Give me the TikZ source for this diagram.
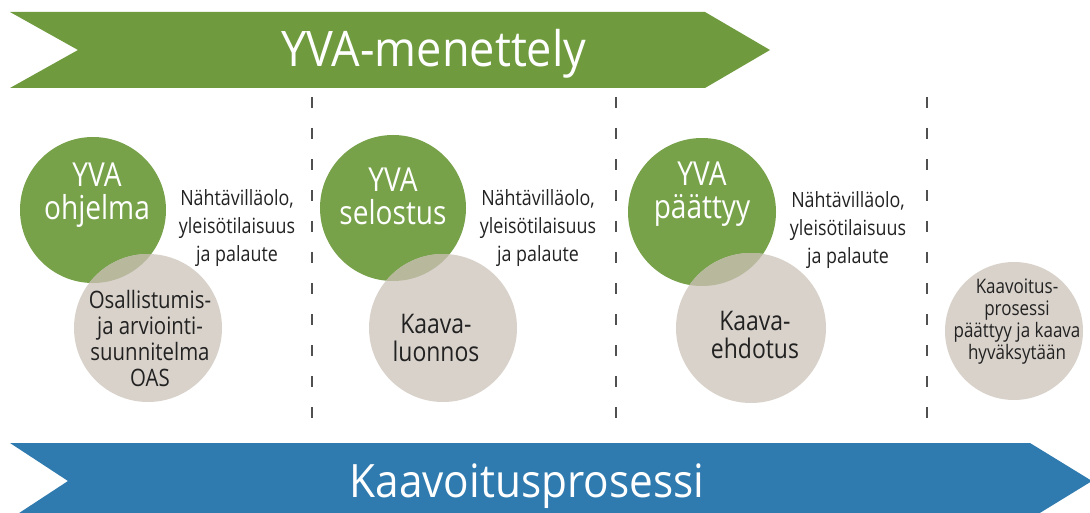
\documentclass[tikz,border=0pt]{standalone}
\usepackage{fontspec}
\setmainfont{Open Sans}
\newfontfamily\condfont[FakeStretch=0.85]{Open Sans}
\newfontfamily\titlefont[FakeStretch=0.92]{Open Sans}
\definecolor{arrowgreen}{HTML}{6F9B3E}
\definecolor{circgreen}{HTML}{77A24A}
\definecolor{circgray}{HTML}{D9D2CB}
\definecolor{overlapc}{HTML}{B7B89C}
\definecolor{arrowblue}{HTML}{2F7AAE}
\definecolor{dashgray}{HTML}{505050}
\definecolor{txt}{HTML}{222222}
\begin{document}
\begin{tikzpicture}[x=1pt,y=-1pt,
  greencirc/.style={circle,fill=circgreen,inner sep=0pt},
  graycirc/.style={circle,fill=circgray,inner sep=0pt},
  greentext/.style={text=white,align=center,font=\condfont\fontsize{33}{33}\selectfont},
  graytext/.style={text=txt,align=center,font=\condfont\fontsize{24}{26}\selectfont},
  kaavatext/.style={text=txt,align=center,font=\condfont\fontsize{27}{28}\selectfont},
  sidetext/.style={text=txt,align=center,font=\condfont\fontsize{21}{28}\selectfont},
  endtext/.style={text=txt,align=center,font=\condfont\fontsize{20}{22}\selectfont},
  divider/.style={draw=dashgray,line width=1.6pt,dash pattern=on 11pt off 20pt},
  titletext/.style={text=white,anchor=base}]
\useasboundingbox[fill=white] (0,0) rectangle (1090,513);
\clip (0,0) rectangle (1090,513);
% arrows
\fill[arrowgreen] (10,12) -- (705,12) -- (770,50) -- (705,88) -- (10,88) -- (78,50) -- cycle;
\fill[arrowblue] (10,443) -- (1030,443) -- (1092,481) -- (1030,519) -- (10,519) -- (68,481) -- cycle;
\node[titletext,font=\titlefont\fontsize{49}{52}\selectfont] (yva) at (434,67) {YVA-menettely};
\node[titletext,font=\titlefont\fontsize{46}{50}\selectfont] (kaav) at (527,497) {Kaavoitusprosessi};
% dividers
\coordinate (d1t) at (312,97); \coordinate (d1b) at (312,432);
\coordinate (d2t) at (616,97); \coordinate (d2b) at (616,432);
\coordinate (d3t) at (927,97); \coordinate (d3b) at (927,432);
\draw[divider] (d1t) -- (d1b);
\draw[divider] (d2t) -- (d2b);
\draw[divider] (d3t) -- (d3b);
% circles
\node[greencirc,minimum size=146pt] (g1) at (93,210) {};
\node[greencirc,minimum size=146pt] (g2) at (393,208) {};
\node[greencirc,minimum size=148pt] (g3) at (702,212) {};
\node[graycirc,minimum size=148pt] (o1) at (148,328) {};
\node[graycirc,minimum size=148pt] (o2) at (443,328) {};
\node[graycirc,minimum size=150pt] (o3) at (751,328) {};
\node[graycirc,minimum size=138pt] (o4) at (1014,331) {};
\begin{scope}
\clip (g1.center) circle[radius=73pt];
\fill[overlapc] (o1.center) circle[radius=74pt];
\end{scope}
\begin{scope}
\clip (g2.center) circle[radius=73pt];
\fill[overlapc] (o2.center) circle[radius=74pt];
\end{scope}
\begin{scope}
\clip (g3.center) circle[radius=74pt];
\fill[overlapc] (o3.center) circle[radius=75pt];
\end{scope}
% texts
\node[greentext] (t1) at (97,195) {YVA\\ohjelma};
\node[greentext] (t2) at (393,196) {YVA\\selostus};
\node[greentext] (t3) at (702,194) {YVA\\päättyy};
\node[graytext] (u1) at (150,338) {Osallistumis-\\ja arviointi-\\suunnitelma\\OAS};
\node[kaavatext] (u2) at (436,338) {Kaava-\\luonnos};
\node[kaavatext] (u3) at (755,335) {Kaava-\\ehdotus};
\node[endtext] (u4) at (1017,322) {Kaavoitus-\\prosessi\\päättyy ja kaava\\hyväksytään};
\node[sidetext] (s1) at (237,228) {Nähtävilläolo,\\yleisötilaisuus\\ja palaute};
\node[sidetext] (s2) at (538,228) {Nähtävilläolo,\\yleisötilaisuus\\ja palaute};
\node[sidetext] (s3) at (848,230) {Nähtävilläolo,\\yleisötilaisuus\\ja palaute};
\end{tikzpicture}
\end{document}
